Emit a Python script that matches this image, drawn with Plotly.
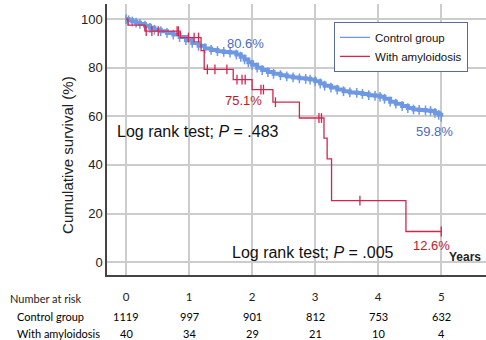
import plotly.graph_objects as go

# ---- data ----
years = [0, 1, 2, 3, 4, 5]
risk_control = [1119, 997, 901, 812, 753, 632]
risk_amyloid = [40, 34, 29, 21, 10, 4]

ctrl_t = [0.00, 0.04, 0.10, 0.16, 0.22, 0.30, 0.38, 0.45, 0.55, 0.65, 0.75, 0.85, 0.95,
          1.05, 1.15, 1.25, 1.35, 1.45, 1.55, 1.65, 1.75, 1.82, 1.88, 1.94, 2.00, 2.08,
          2.16, 2.25, 2.34, 2.45, 2.55, 2.65, 2.75, 2.85, 2.92, 3.00, 3.08, 3.15, 3.25,
          3.35, 3.45, 3.55, 3.66, 3.75, 3.85, 3.95, 4.03, 4.10, 4.19, 4.28, 4.38, 4.47,
          4.56, 4.65, 4.75, 4.83, 4.90, 4.96, 5.00]
ctrl_s = [100.0, 99.5, 99.0, 98.5, 98.0, 97.3, 96.4, 95.6, 95.0, 94.3, 93.6, 92.6, 91.3,
          90.2, 89.0, 87.9, 87.3, 86.8, 86.5, 86.2, 85.4, 84.5, 83.4, 82.2, 81.2, 80.0,
          79.0, 78.2, 77.5, 76.9, 76.4, 76.0, 75.6, 75.4, 75.1, 74.4, 73.5, 72.6, 71.8,
          71.0, 70.3, 69.8, 69.6, 69.2, 68.7, 68.4, 68.0, 67.2, 66.0, 65.2, 64.2, 63.4,
          62.8, 62.6, 62.4, 62.2, 61.4, 60.6, 59.8]

amy_t = [0.00, 0.03, 0.30, 0.86, 1.19, 1.24, 1.70, 2.00, 2.33, 2.75, 3.14, 3.19, 3.26, 4.44, 5.00]
amy_s = [100.0, 97.5, 95.0, 92.4, 87.0, 79.3, 75.1, 71.0, 65.8, 59.3, 51.0, 42.5, 25.3, 12.6, 12.6]

amy_cens_t = [0.32, 0.41, 0.51, 0.81, 0.83, 0.99, 1.08, 1.15, 1.29, 1.41, 1.60,
              1.76, 1.84, 1.89, 2.14, 2.18, 2.37, 3.06, 3.10, 3.71, 5.00]
amy_cens_s = [95.0, 95.0, 95.0, 95.0, 95.0, 92.4, 92.4, 92.4, 79.3, 79.3, 79.3,
              75.1, 75.1, 75.1, 71.0, 71.0, 65.8, 59.3, 59.3, 25.3, 12.6]

BLUE = "#6f98e4"
BLUE_TXT = "#4a6cc0"
RED = "#d3264f"
RED_TXT = "#c0182c"
FONT = "Liberation Sans, Arial, sans-serif"
CAL = "Lato, Carlito, Calibri, sans-serif"

fig = go.Figure()
fig.add_trace(go.Scatter(x=ctrl_t, y=ctrl_s, mode="lines", line=dict(color=BLUE, width=4, shape="hv"),
                         name="Control group", legendgroup="c", showlegend=False))
fig.add_trace(go.Scatter(x=ctrl_t, y=ctrl_s, mode="markers", showlegend=False, legendgroup="c",
                         marker=dict(symbol="line-ns", size=7, line=dict(color=BLUE, width=1.5))))
fig.add_trace(go.Scatter(x=amy_t, y=amy_s, mode="lines", line=dict(color=RED, width=1.3, shape="hv"),
                         name="With amyloidosis", legendgroup="a", showlegend=False))
fig.add_trace(go.Scatter(x=amy_cens_t, y=amy_cens_s, mode="markers", showlegend=False, legendgroup="a",
                         marker=dict(symbol="line-ns", size=7, line=dict(color=RED, width=1.3))))
# legend entries (thin sample lines as in the reference)
fig.add_trace(go.Scatter(x=[None], y=[None], mode="lines", line=dict(color=BLUE, width=1.3),
                         name="Control group", legendgroup="c"))
fig.add_trace(go.Scatter(x=[None], y=[None], mode="lines", line=dict(color=RED, width=1.3),
                         name="With amyloidosis", legendgroup="a"))

ann = []
def txt(x, y, t, size=13, color="#222", xref="x", yref="y", xanchor="center", **kw):
    fam = kw.pop("family", FONT)
    ann.append(dict(x=x, y=y, text=t, xref=xref, yref=yref, xanchor=xanchor, yanchor="middle",
                    showarrow=False, font=dict(size=size, color=color, family=fam), **kw))

txt(1.89, 90.1, "80.6%", 13, BLUE_TXT)
txt(1.87, 66.7, "75.1%", 13, RED_TXT)
txt(4.90, 53.9, "59.8%", 13, BLUE_TXT)
txt(4.84, 7.0, "12.6%", 13, RED_TXT)
txt(-0.18, 53.9, "Log rank test; <i>P</i> = .483", 16, "#111", xanchor="left")
txt(1.65, 4.1, "Log rank test; <i>P</i> = .005", 16, "#111", xanchor="left")
txt(5.38, 2.0, "<b>Years</b>", 12, "#222")

# y axis title
txt(-0.103, 0.443, "Cumulative survival (%)", 15, "#222", xref="paper", yref="paper", textangle=-90)

# risk table
def py(p):
    return 1 - (p - 4) / 271
txt(-0.261, py(298), "Number at risk", 11, "#222", xref="paper", yref="paper", xanchor="left", family=CAL)
txt(-0.243, py(316), "Control group", 11, "#000", xref="paper", yref="paper", xanchor="left", family=CAL)
txt(-0.243, py(333), "With amyloidosis", 11, "#000", xref="paper", yref="paper", xanchor="left", family=CAL)
for yr, a, b in zip(years, risk_control, risk_amyloid):
    txt(yr, py(316), str(a), 11, "#000", yref="paper", family=CAL)
    txt(yr, py(333), str(b), 11, "#000", yref="paper", family=CAL)

fig.update_layout(
    width=486, height=340,
    margin=dict(l=107, r=0, t=4, b=65),
    paper_bgcolor="white", plot_bgcolor="white",
    font=dict(family=FONT, color="#222"),
    annotations=ann,
    legend=dict(x=0.599, y=0.934, xanchor="left", yanchor="top",
                bordercolor="#5b6a99", borderwidth=1, bgcolor="white",
                font=dict(size=11.5, color="#111", family=FONT),
                itemwidth=30, tracegroupgap=0),
    showlegend=True,
)
fig.update_xaxes(range=[-0.302, 5.71], tickvals=years, ticktext=[str(v) for v in years],
                 showgrid=True, gridcolor="#cccccc", gridwidth=1.5, zeroline=False,
                 showline=True, linecolor="#444", linewidth=1.5, ticks="",
                 ticklabelstandoff=10, tickfont=dict(size=11.5, family=CAL, color="#222"))
fig.update_yaxes(range=[-5.3, 106.2], tickvals=[0, 20, 40, 60, 80, 100],
                 showgrid=True, gridcolor="#cccccc", gridwidth=1.5, zeroline=False,
                 showline=True, linecolor="#444", linewidth=1.5, ticks="",
                 tickfont=dict(size=13, family=FONT, color="#222"))

fig.write_html("out.html", config={"displayModeBar": False},
               post_script="document.body.style.margin='0';document.body.style.padding='0';")
